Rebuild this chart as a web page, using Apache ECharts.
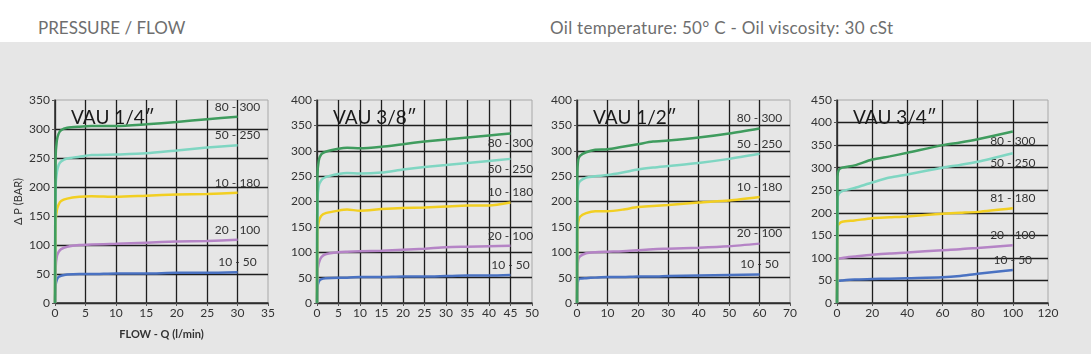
<!DOCTYPE html>
<html>
<head>
<meta charset="utf-8">
<script src="https://cdn.jsdelivr.net/npm/echarts@6/dist/echarts.min.js"></script>
<style>
  html, body { margin: 0; padding: 0; background: #fff; }
  #head { height: 42px; position: relative; font-family: Lato, sans-serif; color: #6e6e6e; font-size: 17px; }
  #head span { position: absolute; top: 18px; line-height: 20px; }
  #chart { width: 1091px; height: 312px; background: #e6e6e6; }
</style>
</head>
<body>
<div id="head">
  <span style="left:38px">PRESSURE / FLOW</span>
  <span style="left:550px; letter-spacing:0.3px">Oil temperature: 50° C - Oil viscosity: 30 cSt</span>
</div>
<div id="chart"></div>
<script>
// valve sizes and curve names
const titles = ['VAU 1/4″', 'VAU 3/8″', 'VAU 1/2″', 'VAU 3/4″'];
const seriesNames = [
  ['10 - 50', '20 - 100', '10 - 180', '50 - 250', '80 - 300'],
  ['10 - 50', '20 - 100', '10 - 180', '50 - 250', '80 - 300'],
  ['10 - 50', '20 - 100', '10 - 180', '50 - 250', '80 - 300'],
  ['10 - 50', '20 - 100', '81 - 180', '50 - 250', '80 - 300']
];
const colors = ['#4a72c2', '#b584c6', '#f2cf22', '#7fd6c2', '#3f9c5e'];

// axis ranges
const xMax = [35, 50, 70, 120];
const xStep = [5, 5, 10, 20];
const yMax = [350, 400, 400, 450];

// VAU 1/4"
const flow1 = [0, 0.1, 0.3, 0.6, 1, 2, 4, 6, 10, 15, 20, 25, 30];
const p1 = [
  [0, 30, 40, 45, 47, 49, 50, 50, 51, 51, 52, 52, 53],
  [0, 60, 80, 88, 93, 97, 100, 101, 102, 104, 106, 107, 109],
  [0, 140, 160, 170, 176, 180, 183, 184, 183, 185, 187, 188, 190],
  [0, 200, 225, 238, 244, 249, 252, 255, 256, 258, 263, 268, 272],
  [0, 250, 280, 292, 298, 302, 304, 305, 305, 308, 312, 317, 321]
];
// VAU 3/8"
const flow2 = [0, 0.1, 0.4, 1, 2, 5, 7, 10, 15, 20, 25, 30, 35, 40, 45];
const p2 = [
  [0, 30, 42, 47, 49, 50, 50, 51, 51, 52, 52, 53, 54, 54, 55],
  [0, 60, 78, 90, 96, 100, 101, 102, 103, 105, 107, 110, 111, 112, 113],
  [0, 140, 160, 172, 177, 182, 184, 182, 185, 187, 188, 190, 192, 192, 198],
  [0, 200, 230, 242, 248, 254, 256, 255, 257, 263, 268, 272, 276, 280, 284],
  [0, 250, 280, 293, 298, 304, 306, 305, 308, 313, 318, 322, 326, 330, 334]
];
// VAU 1/2"
const flow3 = [0, 0.1, 0.4, 1, 3, 6, 10, 15, 20, 25, 30, 40, 50, 60];
const p3 = [
  [0, 30, 45, 48, 49, 50, 51, 51, 52, 52, 53, 54, 55, 56],
  [0, 60, 85, 92, 98, 100, 101, 102, 104, 106, 107, 109, 112, 117],
  [0, 140, 160, 170, 177, 181, 181, 184, 189, 191, 193, 198, 202, 209],
  [0, 200, 232, 240, 247, 250, 252, 257, 263, 267, 270, 276, 284, 294],
  [0, 250, 282, 290, 297, 302, 303, 308, 313, 318, 320, 326, 334, 344]
];
// VAU 3/4"
const flow4 = [0, 0.3, 1, 3, 10, 20, 30, 40, 60, 70, 80, 100];
const p4 = [
  [0, 45, 49, 50, 52, 53, 54, 55, 57, 60, 65, 73],
  [0, 95, 98, 100, 103, 107, 110, 112, 117, 119, 122, 128],
  [0, 170, 175, 180, 183, 188, 190, 192, 198, 200, 202, 210],
  [0, 230, 242, 248, 255, 267, 278, 285, 300, 306, 313, 332],
  [0, 280, 295, 300, 305, 318, 325, 333, 350, 356, 363, 380]
];

const flows = [flow1, flow2, flow3, flow4];
const pressures = [p1, p2, p3, p4];
// where the curve label sits relative to the curve end
const labelPos = [
  ['top', 'top', 'top', 'top', 'top'],
  ['top', 'top', 'top', 'bottom', 'bottom'],
  ['top', 'top', 'top', 'top', 'top'],
  ['top', 'top', 'top', 'bottom', 'bottom']
];

const gridBoxes = [
  { left: 55, width: 213 },
  { left: 317, width: 215 },
  { left: 577, width: 213 },
  { left: 837, width: 211 }
];
const font = 'Lato, sans-serif';

const grids = [], xAxes = [], yAxes = [], series = [], titleList = [];
gridBoxes.forEach((g, i) => {
  grids.push({
    left: g.left, width: g.width, top: 58, height: 203,
    show: true, borderColor: '#a8a8a8', borderWidth: 1, backgroundColor: 'transparent'
  });
  xAxes.push({
    gridIndex: i, type: 'value', min: 0, max: xMax[i], interval: xStep[i],
    name: i === 0 ? 'FLOW - Q (l/min)' : '',
    nameLocation: 'middle', nameGap: 26,
    nameTextStyle: { fontFamily: font, fontSize: 11, color: '#333', fontWeight: 'bold' },
    axisLine: { lineStyle: { color: '#333', width: 1.5 } },
    axisTick: { show: true, length: 3, lineStyle: { color: '#555' } },
    axisLabel: { fontFamily: font, fontSize: 12, color: '#333', margin: 4 },
    splitLine: { show: true, showMaxLine: false, lineStyle: { color: '#1e1e1e', width: 1.3 } }
  });
  yAxes.push({
    gridIndex: i, type: 'value', min: 0, max: yMax[i], interval: 50,
    name: i === 0 ? 'Δ P (BAR)' : '',
    nameLocation: 'middle', nameGap: 31, nameRotate: 90,
    nameTextStyle: { fontFamily: font, fontSize: 11, color: '#333' },
    axisLine: { lineStyle: { color: '#333', width: 1.5 } },
    axisTick: { show: true, length: 3, lineStyle: { color: '#555' } },
    axisLabel: { fontFamily: font, fontSize: 12, color: '#333', margin: 5 },
    splitLine: { show: true, showMaxLine: false, lineStyle: { color: '#1e1e1e', width: 1.3 } }
  });
  titleList.push({
    text: titles[i], left: g.left + 11, top: 61,
    textStyle: { fontFamily: font, fontSize: 19, fontWeight: 'normal', color: '#1a1a1a' }
  });
  pressures[i].forEach((ys, k) => {
    const xs = flows[i];
    const last = ys.length - 1;
    series.push({
      type: 'line', name: seriesNames[i][k] + ' ' + i,
      xAxisIndex: i, yAxisIndex: i,
      data: ys.map((y, j) => [xs[j], y]),
      symbol: 'none', smooth: 0.25, z: 3 + k,
      lineStyle: { color: colors[k], width: 2.5 },
      itemStyle: { color: colors[k] },
      markPoint: {
        symbol: 'circle', symbolSize: 0, silent: true,
        data: [{
          coord: [xs[last], ys[last]],
          label: {
            show: true, position: labelPos[i][k], formatter: seriesNames[i][k],
            fontFamily: font, fontSize: 12, color: '#333', distance: 4
          }
        }]
      }
    });
  });
});

const chart = echarts.init(document.getElementById('chart'));
chart.setOption({
  backgroundColor: '#e6e6e6',
  animation: false,
  title: titleList,
  grid: grids,
  xAxis: xAxes,
  yAxis: yAxes,
  series: series
});
</script>
</body>
</html>
